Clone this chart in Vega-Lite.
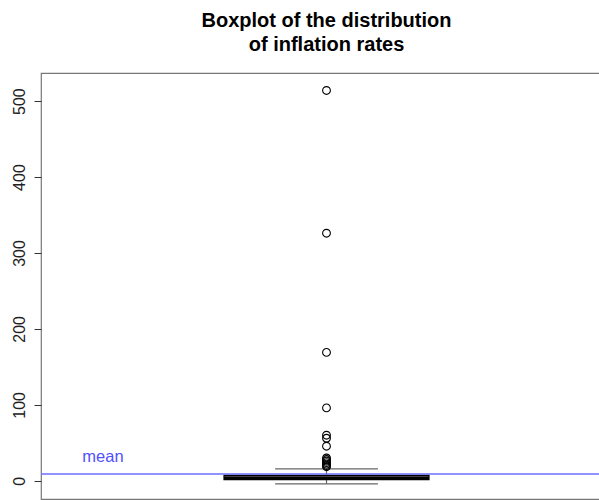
{
  "$schema": "https://vega.github.io/schema/vega-lite/v6.json",
  "width": 571,
  "height": 426,
  "autosize": {"type": "none"},
  "padding": {"left": 41, "top": 73, "right": 0, "bottom": 1},
  "background": "white",
  "config": {
    "view": {"stroke": "#777", "strokeWidth": 1.2},
    "font": "Liberation Sans"
  },
  "title": {
    "text": ["Boxplot of the distribution", "of inflation rates"],
    "fontSize": 20,
    "fontWeight": "bold",
    "font": "Liberation Sans",
    "color": "black",
    "anchor": "middle",
    "offset": 18,
    "lineHeight": 24
  },
  "datasets": {
    "stats": [{"lower": -4, "q1": 1.5, "median": 3.8, "q3": 7, "upper": 15.8, "mean": 9}],
    "outliers": [
      {"value": 514}, {"value": 326}, {"value": 169}, {"value": 96},
      {"value": 60}, {"value": 56}, {"value": 45.5},
      {"value": 30}, {"value": 28}, {"value": 26}, {"value": 24},
      {"value": 22}, {"value": 20}, {"value": 18.5}
    ]
  },
  "layer": [
    {
      "data": {"name": "stats"},
      "mark": {"type": "rule", "color": "#666", "strokeWidth": 1.2},
      "encoding": {
        "x": {"datum": 1, "type": "quantitative", "scale": {"domain": [0, 2]}, "axis": null},
        "y": {"field": "lower", "type": "quantitative", "scale": {"domain": [-24, 537], "nice": false, "zero": false},
          "axis": {"values": [0, 100, 200, 300, 400, 500], "labelAngle": -90, "labelAlign": "center", "labelBaseline": "bottom",
            "labelFontSize": 16, "labelColor": "#222", "labelPadding": 7, "tickSize": 7, "tickColor": "#333", "domain": false, "grid": false, "title": null, "labelFont": "Liberation Sans"}},
        "y2": {"field": "upper"}
      }
    },
    {
      "data": {"name": "stats"},
      "mark": {"type": "rule", "color": "#666", "strokeWidth": 1.2},
      "encoding": {
        "x": {"datum": 0.82, "type": "quantitative"},
        "x2": {"datum": 1.18},
        "y": {"field": "upper", "type": "quantitative"}
      }
    },
    {
      "data": {"name": "stats"},
      "mark": {"type": "rule", "color": "#666", "strokeWidth": 1.2},
      "encoding": {
        "x": {"datum": 0.82, "type": "quantitative"},
        "x2": {"datum": 1.18},
        "y": {"field": "lower", "type": "quantitative"}
      }
    },
    {
      "data": {"name": "stats"},
      "mark": {"type": "rect", "fill": "white", "stroke": "black", "strokeWidth": 1.2},
      "encoding": {
        "x": {"datum": 0.641, "type": "quantitative"},
        "x2": {"datum": 1.359},
        "y": {"field": "q1", "type": "quantitative"},
        "y2": {"field": "q3"}
      }
    },
    {
      "data": {"name": "stats"},
      "mark": {"type": "rule", "color": "black", "strokeWidth": 3.5},
      "encoding": {
        "x": {"datum": 0.641, "type": "quantitative"},
        "x2": {"datum": 1.359},
        "y": {"field": "median", "type": "quantitative"}
      }
    },
    {
      "data": {"name": "stats"},
      "mark": {"type": "rule", "color": "#6e6eff", "strokeWidth": 1.5},
      "encoding": {
        "y": {"field": "mean", "type": "quantitative"}
      }
    },
    {
      "data": {"name": "stats"},
      "mark": {"type": "text", "text": "mean", "color": "#5050ff", "fontSize": 16.5, "font": "Liberation Sans", "align": "center", "baseline": "middle"},
      "encoding": {
        "x": {"datum": 0.217, "type": "quantitative"},
        "y": {"datum": 31.5, "type": "quantitative"}
      }
    },
    {
      "data": {"name": "outliers"},
      "mark": {"type": "point", "shape": "circle", "filled": false, "stroke": "black", "strokeWidth": 1.1, "size": 60, "opacity": 1},
      "encoding": {
        "x": {"datum": 1, "type": "quantitative"},
        "y": {"field": "value", "type": "quantitative"}
      }
    }
  ]
}
